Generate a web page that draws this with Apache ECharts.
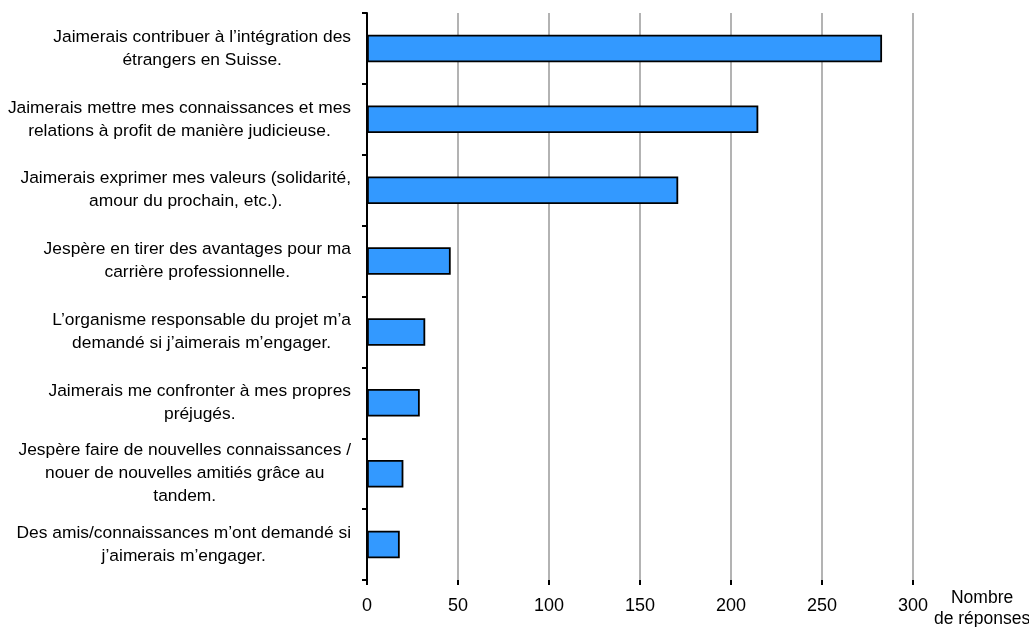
<!DOCTYPE html>
<html>
<head>
<meta charset="utf-8">
<script src="https://cdn.jsdelivr.net/npm/echarts@6/dist/echarts.min.js"></script>
<style>
  html, body { margin: 0; padding: 0; background: #fff; }
  #chart { width: 1029px; height: 627px; }
</style>
</head>
<body>
<div id="chart"></div>
<script>
// categories, top to bottom
const categories = [
  'Jaimerais contribuer à l’intégration des\nétrangers en Suisse.',
  'Jaimerais mettre mes connaissances et mes\nrelations à profit de manière judicieuse.',
  'Jaimerais exprimer mes valeurs (solidarité,\namour du prochain, etc.).',
  'Jespère en tirer des avantages pour ma\ncarrière professionnelle.',
  'L’organisme responsable du projet m’a\ndemandé si j’aimerais m’engager.',
  'Jaimerais me confronter à mes propres\npréjugés.',
  'Jespère faire de nouvelles connaissances /\nnouer de nouvelles amitiés grâce au\ntandem.',
  'Des amis/connaissances m’ont demandé si\nj’aimerais m’engager.'
]
const responses = [283, 215, 171, 46, 32, 29, 20, 18]
const axisMin = 0
const axisMax = 300
const axisStep = 50
const axisTitle = 'Nombre\nde réponses'

const font = '"Liberation Sans", Arial, sans-serif'
const chart = echarts.init(document.getElementById('chart'))

chart.setOption({
  animation: false,
  grid: {
    left: 367,
    right: 116,
    top: 13,
    bottom: 47,
    outerBoundsMode: 'none',
  },
  xAxis: {
    type: 'value',
    min: axisMin,
    max: axisMax,
    interval: axisStep,
    name: axisTitle,
    nameLocation: 'end',
    nameGap: 61,
    nameTextStyle: {
      fontFamily: font,
      fontSize: 17.5,
      color: '#000',
      align: 'center',
      verticalAlign: 'top',
      lineHeight: 21,
      padding: [8, 0, 0, 0],
    },
    axisLine: { lineStyle: { color: '#000', width: 2 } },
    axisTick: { show: true, length: 5, lineStyle: { color: '#000', width: 2 } },
    axisLabel: {
      margin: 17,
      fontFamily: font,
      fontSize: 18,
      color: '#000',
    },
    splitLine: {
      show: true,
      lineStyle: { color: '#9a9a9a', width: 1.5 },
    },
  },
  yAxis: {
    type: 'category',
    data: categories,
    inverse: true,
    axisLine: { lineStyle: { color: '#000', width: 2 } },
    axisTick: { show: true, length: 5, lineStyle: { color: '#000', width: 2 } },
    splitLine: { show: false },
    axisLabel: {
      margin: 16,
      align: 'right',
      formatter: (v) => v.split('\n').map((l) => '{c|' + l + '}').join('\n'),
      rich: {
        c: {
          fontFamily: font,
          fontSize: 17.4,
          lineHeight: 23,
          color: '#000',
          align: 'center',
        },
      },
    },
  },
  series: [
    {
      type: 'bar',
      data: responses,
      barWidth: 27.5,
      itemStyle: {
        color: '#3399FF',
        borderColor: '#000',
        borderWidth: 1.8,
      },
    },
  ],
})
</script>
</body>
</html>
